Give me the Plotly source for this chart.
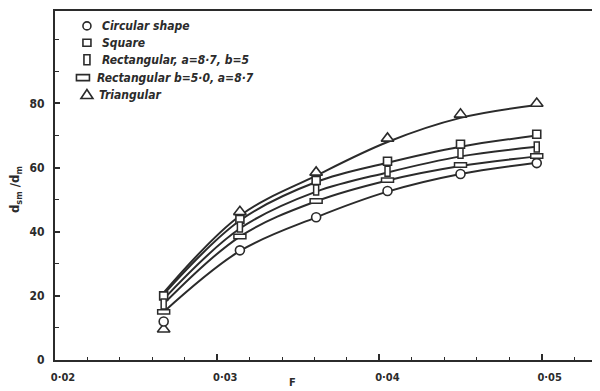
import plotly.graph_objects as go

# ---- data ----
F_points = [0.0267, 0.0314, 0.0361, 0.0405, 0.0450, 0.0497]

circ_pts = [12.0, 34.2, 44.5, 52.7, 58.0, 61.4]
sq_pts = [20.0, 43.8, 56.0, 62.0, 67.3, 70.4]
vrect_pts = [17.5, 41.5, 53.0, 58.9, 64.5, 66.4]
hrect_pts = [15.0, 38.5, 49.6, 56.1, 60.8, 63.6]
tri_pts = [9.6, 46.2, 58.5, 69.1, 76.6, 80.0]

# fitted curves as drawn in the reference (read at the same F positions)
circ_curve = [15.0, 34.0, 44.5, 52.5, 58.0, 61.5]
sq_curve = [20.5, 43.5, 55.5, 61.5, 66.5, 70.0]
vrect_curve = [19.0, 41.0, 52.5, 58.5, 63.5, 66.5]
hrect_curve = [17.5, 38.5, 49.5, 56.0, 60.5, 63.5]
tri_curve = [21.0, 45.0, 57.5, 68.0, 75.5, 79.5]

x_tickvals = [0.02, 0.03, 0.04, 0.05]
x_ticktext = ["0·02", "0·03", "0·04", "0·05"]
y_tickvals = [0, 20, 40, 60, 80]

legend_labels = ["Circular shape", "Square", "Rectangular, a=8·7, b=5",
                 "Rectangular b=5·0, a=8·7", "Triangular"]

INK = "#2b2b2b"
FONT = "DejaVu Sans Condensed"

OFF = 8  # page body margin
W, H = 592, 383
L, R, T, B = 47, 2, 1, 31
pw, ph = W - L - R, H - T - B


def px(xp):  # page pixel -> paper
    return (xp - OFF - L) / pw


def py(yp):
    return (H - B - (yp - OFF)) / ph


fig = go.Figure()

for curve in [circ_curve, sq_curve, vrect_curve, hrect_curve, tri_curve]:
    fig.add_trace(go.Scatter(x=F_points, y=curve, mode="lines",
                             line=dict(color=INK, width=2, shape="spline", smoothing=1.0),
                             showlegend=False, hoverinfo="skip"))

mk_line = dict(color=INK, width=1.6)
fig.add_trace(go.Scatter(x=F_points, y=tri_pts, mode="markers", showlegend=False,
                         marker=dict(symbol="triangle-up", size=11, color="white", line=mk_line)))
fig.add_trace(go.Scatter(x=F_points, y=circ_pts, mode="markers", showlegend=False,
                         marker=dict(symbol="circle", size=9, color="white", line=mk_line)))

shapes = []
# horizontal rectangles (b=5.0, a=8.7)
for f, v in zip(F_points, hrect_pts):
    shapes.append(dict(type="rect", xref="x", yref="y", xsizemode="pixel", ysizemode="pixel",
                       xanchor=f, yanchor=v, x0=-6, x1=6, y0=-2.2, y1=2.2,
                       fillcolor="white", line=dict(color=INK, width=1.5)))
# vertical rectangles (a=8.7, b=5)
for f, v in zip(F_points, vrect_pts):
    shapes.append(dict(type="rect", xref="x", yref="y", xsizemode="pixel", ysizemode="pixel",
                       xanchor=f, yanchor=v, x0=-2.5, x1=2.5, y0=-5, y1=5,
                       fillcolor="white", line=dict(color=INK, width=1.5)))

fig.add_trace(go.Scatter(x=F_points, y=sq_pts, mode="markers", showlegend=False,
                         marker=dict(symbol="square", size=8, color="white", line=mk_line)))

# ---- manual legend (top-left inside plot) ----
leg_y = [24, 41, 58, 76, 93]
sym_x = 87
text_x = [100, 100, 100, 95, 97]
sl = dict(color=INK, width=1.6)
shapes.append(dict(type="circle", xref="paper", yref="paper", xsizemode="pixel", ysizemode="pixel",
                   xanchor=px(sym_x), yanchor=py(leg_y[0]), x0=-4, x1=4, y0=-4, y1=4,
                   line=sl, fillcolor="white"))
shapes.append(dict(type="rect", xref="paper", yref="paper", xsizemode="pixel", ysizemode="pixel",
                   xanchor=px(sym_x), yanchor=py(leg_y[1]), x0=-4, x1=4, y0=-3.5, y1=3.5,
                   line=sl, fillcolor="white"))
shapes.append(dict(type="rect", xref="paper", yref="paper", xsizemode="pixel", ysizemode="pixel",
                   xanchor=px(sym_x), yanchor=py(leg_y[2]), x0=-3, x1=3, y0=-5, y1=5,
                   line=sl, fillcolor="white"))
shapes.append(dict(type="rect", xref="paper", yref="paper", xsizemode="pixel", ysizemode="pixel",
                   xanchor=px(83), yanchor=py(leg_y[3]), x0=-6.5, x1=6.5, y0=-3, y1=3,
                   line=sl, fillcolor="white"))
shapes.append(dict(type="path", xref="paper", yref="paper", xsizemode="pixel", ysizemode="pixel",
                   xanchor=px(sym_x), yanchor=py(leg_y[4]), path="M -6 -4 L 6 -4 L 0 5 Z",
                   line=sl, fillcolor="white"))

annotations = []
for lbl, yy, xx in zip(legend_labels, leg_y, text_x):
    annotations.append(dict(xref="paper", yref="paper", x=px(xx), y=py(yy), text=lbl,
                            showarrow=False, xanchor="left", yanchor="middle",
                            font=dict(family=FONT, size=12, color=INK, weight="bold", style="italic")))

annotations.append(dict(xref="paper", yref="paper", x=px(293), y=py(383), text="F",
                        showarrow=False, xanchor="center", yanchor="middle",
                        font=dict(family=FONT, size=11, color=INK, weight="bold")))
annotations.append(dict(xref="paper", yref="paper", x=px(16), y=py(189),
                        text="d<sub>sm</sub> /d<sub>m</sub>", textangle=-90,
                        showarrow=False, xanchor="center", yanchor="middle",
                        font=dict(family=FONT, size=13, color=INK, weight="bold")))

fig.update_layout(
    width=W, height=H,
    margin=dict(l=L, r=R, t=T, b=B),
    paper_bgcolor="white", plot_bgcolor="white",
    shapes=shapes, annotations=annotations,
    showlegend=False,
)
fig.update_xaxes(range=[0.02, 0.02 + pw / 162.5 * 0.01],
                 tickvals=x_tickvals, ticktext=x_ticktext,
                 ticks="inside", ticklen=6, tickwidth=1.5, tickcolor=INK,
                 minor=dict(dtick=0.002, tick0=0.02, ticks="inside", ticklen=3, tickwidth=1.2, tickcolor=INK),
                 showline=True, linecolor=INK, linewidth=2, mirror=True,
                 showgrid=False, zeroline=False,
                 ticklabelshift=8, ticklabelstandoff=6,
                 tickfont=dict(family=FONT, size=11, color=INK, weight="bold"))
fig.update_yaxes(range=[0, ph / 3.225],
                 tickvals=y_tickvals,
                 ticks="inside", ticklen=5, tickwidth=1.5, tickcolor=INK,
                 minor=dict(dtick=10, tick0=0, ticks="inside", ticklen=4, tickwidth=1.2, tickcolor=INK),
                 showline=True, linecolor=INK, linewidth=2, mirror=True,
                 showgrid=False, zeroline=False,
                 ticklabelstandoff=6,
                 tickfont=dict(family=FONT, size=12, color=INK, weight="bold"))

fig.write_html("out.html")
